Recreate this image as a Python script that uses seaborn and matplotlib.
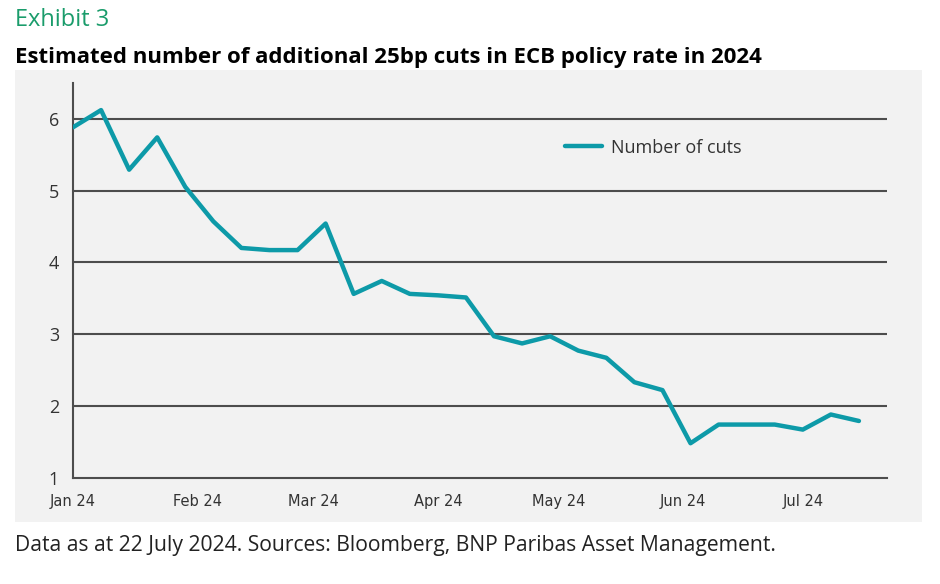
import matplotlib
matplotlib.use("Agg")
import matplotlib.pyplot as plt
from matplotlib.patches import Rectangle
import pandas as pd
import seaborn as sns

# weekly observations (Mondays)
dates = [
    "2024-01-01", "2024-01-08", "2024-01-15", "2024-01-22", "2024-01-29",
    "2024-02-05", "2024-02-12", "2024-02-19", "2024-02-26",
    "2024-03-04", "2024-03-11", "2024-03-18", "2024-03-25",
    "2024-04-01", "2024-04-08", "2024-04-15", "2024-04-22", "2024-04-29",
    "2024-05-06", "2024-05-13", "2024-05-20", "2024-05-27",
    "2024-06-03", "2024-06-10", "2024-06-17", "2024-06-24",
    "2024-07-01", "2024-07-08", "2024-07-15",
]
number_of_cuts = [
    5.88, 6.12, 5.29, 5.74, 5.05,
    4.57, 4.20, 4.17, 4.17,
    4.54, 3.56, 3.74, 3.56,
    3.54, 3.51, 2.97, 2.87, 2.97,
    2.77, 2.67, 2.33, 2.22,
    1.48, 1.74, 1.74, 1.74,
    1.67, 1.88, 1.79,
]
month_ticks = ["2024-01-01", "2024-02-01", "2024-03-01", "2024-04-01",
               "2024-05-01", "2024-06-01", "2024-07-01"]
month_labels = ["Jan 24", "Feb 24", "Mar 24", "Apr 24", "May 24", "Jun 24", "Jul 24"]
y_ticks = [1, 2, 3, 4, 5, 6]

df = pd.DataFrame({"date": pd.to_datetime(dates), "Number of cuts": number_of_cuts})

sns.set_style("white")
plt.rcParams["font.family"] = ["Open Sans", "DejaVu Sans"]

W, H = 940, 584
fig = plt.figure(figsize=(W / 100, H / 100), dpi=100)
fig.patch.set_facecolor("white")

# grey panel behind the chart
fig.patches.append(Rectangle((15 / W, 1 - 522 / H), (922 - 15) / W, (522 - 70) / H,
                             transform=fig.transFigure, facecolor="#f2f2f2",
                             edgecolor="none", zorder=-10))

ax = fig.add_axes([73 / W, 1 - 477.7 / H, (887 - 73) / W, (477.7 - 82.8) / H])
ax.set_facecolor("none")

line_color = "#0d9aa8"
grid_color = "#4d4d4d"

for y in y_ticks[1:]:
    ax.axhline(y, color=grid_color, lw=1.5, zorder=1)

sns.lineplot(data=df, x="date", y="Number of cuts", ax=ax, color=line_color,
             lw=3.2, label="Number of cuts", zorder=3)

ax.set_xlim(pd.Timestamp("2024-01-01"), pd.Timestamp("2024-07-22"))
ax.set_ylim(1, 6.5)
ax.set_yticks(y_ticks)
ax.set_xticks(pd.to_datetime(month_ticks))
ax.set_xticklabels(month_labels, family=["Liberation Sans Narrow", "DejaVu Sans Condensed", "DejaVu Sans"],
                   fontsize=10.5, color="#333333")
ax.set_yticklabels([str(v) for v in y_ticks], fontsize=13, color="#333333")
ax.set_xlabel("")
ax.set_ylabel("")

for s in ["top", "right"]:
    ax.spines[s].set_visible(False)
for s in ["left", "bottom"]:
    ax.spines[s].set_color(grid_color)
    ax.spines[s].set_linewidth(1.5)
ax.tick_params(axis="y", length=4, width=1.2, color=grid_color, pad=6)
ax.tick_params(axis="x", length=3, width=1.2, color=grid_color, pad=9)

leg = ax.legend(loc="upper left", bbox_to_anchor=(0.585, 0.9), frameon=False,
                fontsize=13, handlelength=2.0, handletextpad=0.55)
for t in leg.get_texts():
    t.set_color("#333333")

fig.text(15 / W, 1 - 20 / H, "Exhibit 3", color="#1a9c6b", fontsize=17,
         va="center", ha="left")
fig.text(15 / W, 1 - 58 / H, "Estimated number of additional 25bp cuts in ECB policy rate in 2024",
         color="black", fontsize=16, fontweight="bold", va="center", ha="left")
fig.text(15 / W, 1 - 545 / H, "Data as at 22 July 2024. Sources: Bloomberg, BNP Paribas Asset Management.",
         color="#222222", fontsize=15.2, va="center", ha="left")

fig.savefig("out.png", dpi=100, facecolor="white")
